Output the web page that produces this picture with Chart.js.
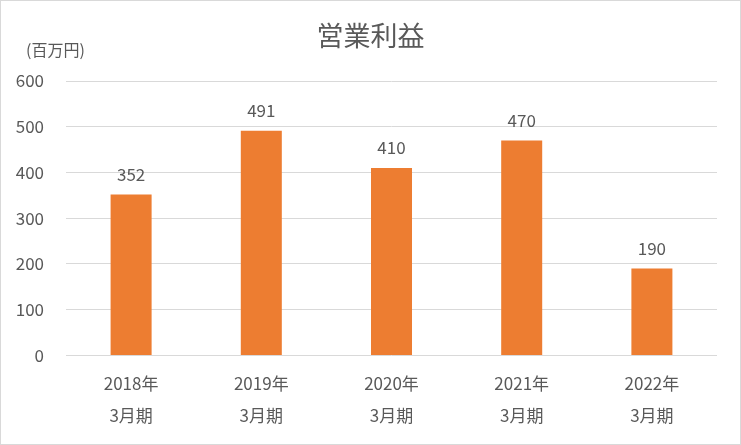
<!DOCTYPE html>
<html>
<head>
<meta charset="utf-8">
<script src="https://cdn.jsdelivr.net/npm/chart.js@4"></script>
<style>
  html, body { margin: 0; padding: 0; background: #fff; }
  #wrap { width: 741px; height: 445px; box-sizing: border-box; border: 1px solid #d9d9d9; position: relative; }
  #chart { display: block; }
</style>
</head>
<body>
<div id="wrap"><canvas id="chart" width="739" height="443"></canvas></div>
<script>
// --- DATA ---
const years = ['2018年', '2019年', '2020年', '2021年', '2022年'];
const periodLabel = '3月期';
const profit = [352, 491, 410, 470, 190];
const yTicks = [0, 100, 200, 300, 400, 500, 600];
const titleText = '営業利益';
const unitText = '(百万円)';

const FONT = '"Noto Sans CJK JP", "Noto Sans", sans-serif';
const TEXT = '#595959';
const ORANGE = '#ED7D31';

// title centred on the whole canvas, value labels above bars, unit label top-left
const extras = {
  id: 'extras',
  afterDatasetsDraw(chart) {
    const ctx = chart.ctx;
    const meta = chart.getDatasetMeta(0);
    ctx.save();
    ctx.fillStyle = TEXT;
    ctx.textBaseline = 'middle';

    ctx.font = '27px ' + FONT;
    ctx.textAlign = 'center';
    ctx.fillText(titleText, chart.width / 2, 35);

    ctx.font = '17px ' + FONT;
    meta.data.forEach((bar, i) => {
      ctx.fillText(String(profit[i]), bar.x, bar.y - 20);
    });

    ctx.font = '16px ' + FONT;
    ctx.textAlign = 'left';
    ctx.fillText(unitText, 25, 49);
    ctx.restore();
  }
};

new Chart(document.getElementById('chart'), {
  type: 'bar',
  data: {
    labels: years.map(y => [y, periodLabel]),
    datasets: [{
      data: profit,
      backgroundColor: ORANGE,
      barPercentage: 0.315,
      categoryPercentage: 1
    }]
  },
  options: {
    responsive: false,
    animation: false,
    layout: { padding: { top: 80, right: 23, bottom: 8, left: 0 } },
    plugins: {
      legend: { display: false },
      tooltip: { enabled: false },
      title: { display: false }
    },
    scales: {
      x: {
        grid: { display: false },
        border: { display: false },
        ticks: {
          color: TEXT,
          padding: 4,
          maxRotation: 0,
          font: { family: FONT, size: 17, lineHeight: 1.9 }
        }
      },
      y: {
        min: 0,
        max: 600,
        afterFit(scale) { scale.width = 65; },
        afterBuildTicks(scale) { scale.ticks = yTicks.map(v => ({ value: v })); },
        grid: { color: '#d9d9d9', lineWidth: 1, drawTicks: false },
        border: { display: false },
        ticks: {
          color: TEXT,
          padding: 22,
          font: { family: FONT, size: 17 }
        }
      }
    }
  },
  plugins: [extras]
});
</script>
</body>
</html>
